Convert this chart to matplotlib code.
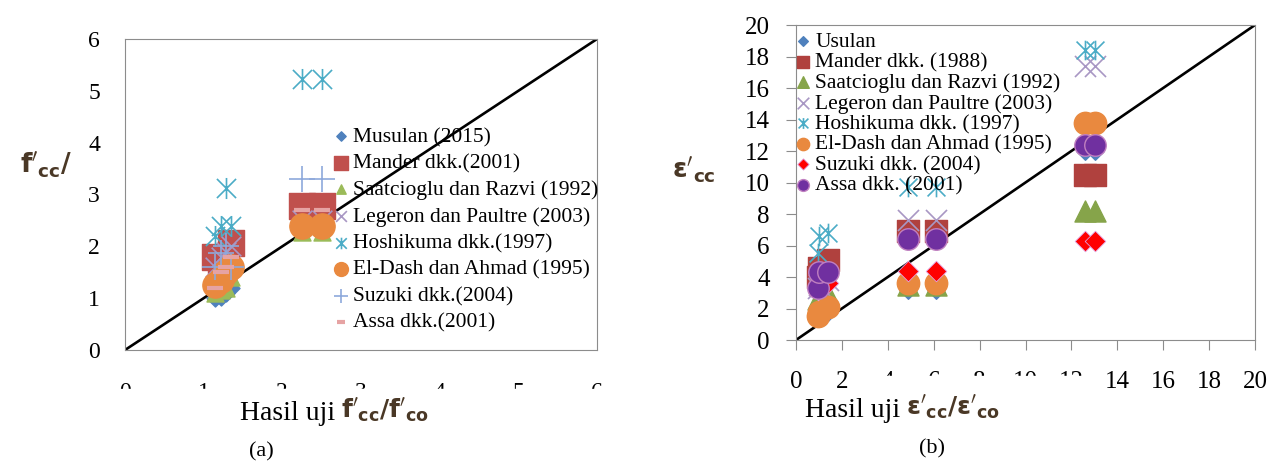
import matplotlib
matplotlib.use('Agg')
import matplotlib.pyplot as plt
from matplotlib.path import Path
from matplotlib.patches import Rectangle

# panel (a): test f'cc/f'co vs model predictions
test_a = [1.15, 1.22, 1.28, 1.35, 2.25, 2.5]
musulan_a = [1.0, 1.02, 1.1, 1.2, 2.3, 2.3]
mander_a = [1.8, 1.55, 1.7, 2.07, 2.77, 2.77]
saatcioglu_a = [1.1, 1.15, 1.2, 1.4, 2.28, 2.28]
legeron_a = [1.6, 1.8, 1.9, 2.0, 2.5, 2.5]
hoshikuma_a = [2.2, 2.4, 3.13, 2.4, 5.22, 5.22]
eldash_a = [1.25, 1.35, 1.5, 1.6, 2.4, 2.4]
suzuki_a = [1.6, 1.87, 2.0, 1.6, 3.29, 3.29]
assa_a = [1.2, 1.5, 1.6, 1.8, 2.7, 2.7]

# panel (b): test e'cc/e'co vs model predictions
test_b = [0.95, 1.0, 1.4, 4.9, 6.1, 12.6, 13.05]
usulan_b = [1.4, 1.6, 1.8, 3.2, 3.2, 12.0, 12.0]
mander_b = [4.0, 4.6, 5.1, 6.9, 6.9, 10.5, 10.5]
saatcioglu_b = [2.6, 2.4, 2.9, 3.5, 3.5, 8.2, 8.2]
legeron_b = [3.3, 3.5, 3.8, 7.6, 7.6, 17.4, 17.4]
hoshikuma_b = [5.5, 6.6, 6.8, 9.7, 9.7, 18.4, 18.4]
eldash_b = [1.5, 1.8, 2.1, 3.6, 3.6, 13.8, 13.8]
suzuki_b = [3.2, 3.5, 3.6, 4.4, 4.4, 6.3, 6.3]
assa_b = [3.3, 4.3, 4.3, 6.4, 6.4, 12.4, 12.4]

ticks_a = [0, 1, 2, 3, 4, 5, 6]
ticks_b = list(range(0, 21, 2))

plt.rcParams['font.family'] = ['Liberation Serif', 'DejaVu Serif']
plt.rcParams['mathtext.fontset'] = 'dejavusans'

M, L = Path.MOVETO, Path.LINETO
asterisk = Path([(-1, -1), (1, 1), (-1, 1), (1, -1), (0, -1.1), (0, 1.1)],
                [M, L, M, L, M, L])

BLUE = '#4F81BD'
RED = '#C0504D'
GREEN = '#9BBB59'
LAVENDER = '#A897C4'
CYAN = '#4BACC6'
ORANGE = '#E9893F'
PURPLE = '#7030A0'
LABEL_COLOR = '#4a3826'

fig = plt.figure(figsize=(12.81, 4.65), dpi=100)
ax1 = fig.add_axes([125 / 1281, 1 - 350 / 465, 472 / 1281, 311 / 465])
ax2 = fig.add_axes([796 / 1281, 1 - 340 / 465, 459 / 1281, 315 / 465])

# ---- panel (a)
ax1.plot([0, 6], [0, 6], color='black', lw=1.9, zorder=1)
ax1.scatter(test_a, musulan_a, marker='D', s=75, color=BLUE, label='Musulan (2015)', zorder=2)
ax1.scatter(test_a, mander_a, marker='s', s=330, color=RED, label='Mander dkk.(2001)', zorder=2)
ax1.scatter(test_a, saatcioglu_a, marker='^', s=150, color=GREEN, label='Saatcioglu dan Razvi (1992)', zorder=2)
ax1.scatter(test_a, legeron_a, marker='x', s=200, color=LAVENDER, lw=1.2, label='Legeron dan Paultre (2003)', zorder=2)
ax1.scatter(test_a, hoshikuma_a, marker=asterisk, s=230, color=CYAN, lw=1.2, label='Hoshikuma dkk.(1997)', zorder=2)
ax1.scatter(test_a, eldash_a, marker='o', s=330, color=ORANGE, label='El-Dash dan Ahmad (1995)', zorder=2)
ax1.scatter(test_a, suzuki_a, marker='+', s=330, color='#8EA9DB', lw=1.2, label='Suzuki dkk.(2004)', zorder=2)
ax1.scatter(test_a, assa_a, marker='_', s=130, color='#E6A3A3', lw=3, label='Assa dkk.(2001)', zorder=2)
ax1.set_xlim(0, 6)
ax1.set_ylim(0, 6)
ax1.set_xticks(ticks_a)
ax1.set_yticks(ticks_a)
ax1.tick_params(axis='both', length=0, labelsize=17)
ax1.tick_params(axis='x', pad=23)
ax1.tick_params(axis='y', pad=18)
for sp in ax1.spines.values():
    sp.set_color('#8c8c8c')
ax1.legend(loc='upper left', bbox_to_anchor=(335 / 1281, 1 - 127 / 465),
           bbox_transform=fig.transFigure, frameon=False, fontsize=15.5,
           handlelength=0.6, handletextpad=0.25, labelspacing=0.3,
           borderpad=0, borderaxespad=0, markerscale=0.55)

# ---- panel (b)
ax2.plot([0, 20], [0, 20], color='black', lw=1.9, zorder=1)
ax2.scatter(test_b, usulan_b, marker='D', s=80, color=BLUE, label='Usulan', zorder=2)
ax2.scatter(test_b, mander_b, marker='s', s=270, color='#B0413E', label='Mander dkk. (1988)', zorder=2)
ax2.scatter(test_b, saatcioglu_b, marker='^', s=230, color='#86A44A', label='Saatcioglu dan Razvi (1992)', zorder=2)
ax2.scatter(test_b, legeron_b, marker='x', s=230, color=LAVENDER, lw=1.2, label='Legeron dan Paultre (2003)', zorder=2)
ax2.scatter(test_b, hoshikuma_b, marker=asterisk, s=200, color=CYAN, lw=1.2, label='Hoshikuma dkk. (1997)', zorder=2)
ax2.scatter(test_b, eldash_b, marker='o', s=260, color=ORANGE, label='El-Dash dan Ahmad (1995)', zorder=2)
ax2.scatter(test_b, suzuki_b, marker='D', s=110, color='#FF0000', edgecolor='#E0A0E0', lw=0.6,
            label='Suzuki dkk. (2004)', zorder=2)
ax2.scatter(test_b, assa_b, marker='o', s=240, color=PURPLE, edgecolor='#C080C0', lw=1.0,
            label='Assa dkk. (2001)', zorder=2)
ax2.set_xlim(0, 20)
ax2.set_ylim(0, 20)
ax2.set_xticks(ticks_b)
ax2.set_yticks(ticks_b)
ax2.tick_params(axis='both', direction='out', length=7, color='#8c8c8c', labelsize=18)
ax2.tick_params(axis='x', pad=15.5)
ax2.tick_params(axis='y', pad=12)
for sp in ax2.spines.values():
    sp.set_color('#8c8c8c')
ax2.legend(loc='upper left', bbox_to_anchor=(797 / 1281, 1 - 32 / 465),
           bbox_transform=fig.transFigure, frameon=False, fontsize=15.5,
           handlelength=0.6, handletextpad=0.25, labelspacing=0.02,
           borderpad=0, borderaxespad=0, markerscale=0.55)

# white strips hiding the lower part of the x tick labels, as in the source
fig.patches.append(Rectangle((100 / 1281, 1 - 402 / 465), 520 / 1281, 13 / 465,
                             transform=fig.transFigure, color='white', zorder=10))
fig.patches.append(Rectangle((858 / 1281, 1 - 392 / 465), 248 / 1281, 16 / 465,
                             transform=fig.transFigure, color='white', zorder=10))

# axis titles
fig.text(20 / 1281, 1 - 165 / 465, r"$\mathbf{f'_{cc}/}$", color=LABEL_COLOR,
         fontsize=19, ha='left', va='center', zorder=20)
fig.text(672 / 1281, 1 - 170 / 465, r"$\mathbf{\varepsilon'_{cc}}$", color=LABEL_COLOR,
         fontsize=19, ha='left', va='center', zorder=20)

fig.text(335 / 1281, 1 - 413 / 465, 'Hasil uji', fontsize=20, ha='right', va='center', zorder=20)
fig.text(341 / 1281, 1 - 411 / 465, r"$\mathbf{f'_{cc}/f'_{co}}$", color=LABEL_COLOR,
         fontsize=18, ha='left', va='center', zorder=20)
fig.text(900 / 1281, 1 - 410 / 465, 'Hasil uji', fontsize=20, ha='right', va='center', zorder=20)
fig.text(906 / 1281, 1 - 408 / 465, r"$\mathbf{\varepsilon'_{cc}/\varepsilon'_{co}}$",
         color=LABEL_COLOR, fontsize=18, ha='left', va='center', zorder=20)

fig.text(261 / 1281, 1 - 452 / 465, '(a)', fontsize=16, ha='center', va='center')
fig.text(932 / 1281, 1 - 449 / 465, '(b)', fontsize=16, ha='center', va='center')

fig.savefig('out.png', dpi=100, facecolor='white')
